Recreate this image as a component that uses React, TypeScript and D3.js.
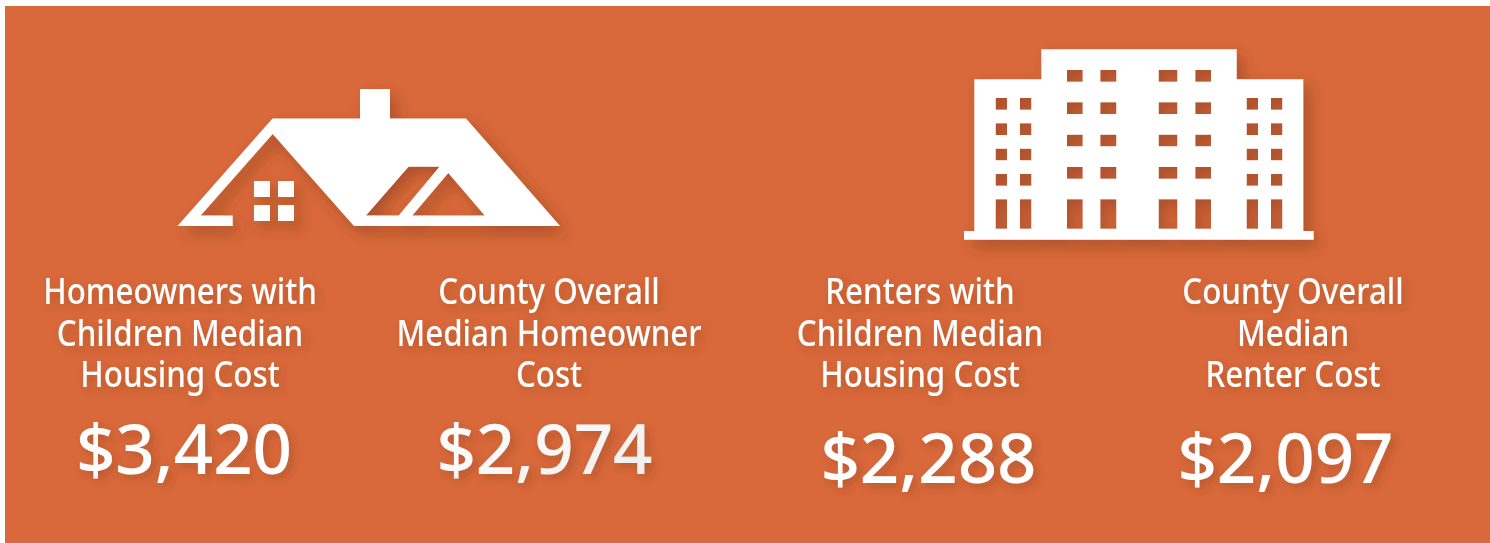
import React from "react";
import { format, line, scaleOrdinal } from "d3";

// data
const categories = ["ownerKids", "ownerAll", "renterKids", "renterAll"];
const labels = [
  ["Homeowners with", "Children Median", "Housing Cost"],
  ["County Overall", "Median Homeowner", "Cost"],
  ["Renters with", "Children Median", "Housing Cost"],
  ["County Overall", "Median", "Renter Cost"],
];
const costs = [3420, 2974, 2288, 2097];

// layout
const W = 1490;
const H = 543;
const FONT = "'Noto Sans', sans-serif";
const BG = "#d9693b";
const xLabel = scaleOrdinal<string, number>().domain(categories).range([180, 549, 920, 1293]);
const xCost = scaleOrdinal<string, number>().domain(categories).range([184, 544.5, 928.5, 1285.5]);
const yCost = scaleOrdinal<string, number>().domain(categories).range([474, 474, 483, 483]);
const labelY = [304, 346, 387];
const money = format("$,");

// icon outlines
const roof: [number, number][] = [
  [177.5, 226], [272.5, 118.5], [360, 118.5], [360, 89], [390, 89], [390, 118.5], [466, 118.5],
  [560, 226], [354, 226], [272.7, 134], [200.7, 215.5], [232.7, 215.5], [232.7, 226],
];
const dormer: [number, number][] = [[366, 215.5], [408.5, 166.7], [439.5, 166.7], [398.7, 215.5]];
const gable: [number, number][] = [[412.3, 215.5], [448.3, 173], [484.7, 215.5]];
const paneX = [[254, 270], [278, 294]];
const paneY = [[181, 197], [205, 221]];

const tower: [number, number][] = [
  [974.3, 231], [974.3, 79.3], [1041.3, 79.3], [1041.3, 49.3], [1236.7, 49.3], [1236.7, 79.3],
  [1303.3, 79.3], [1303.3, 231], [1313.7, 231], [1313.7, 239.7], [964, 239.7], [964, 231],
];
const wingCols = [[995.7, 1007], [1020, 1031.3], [1246.7, 1258], [1271, 1282.3]];
const wingRows = [[98, 109.7], [123.3, 135], [148.7, 160.3], [174, 185.7], [199.3, 228.7]];
const midCols = [[1067, 1082.7], [1100.3, 1116.3], [1158.7, 1177.3], [1195.3, 1211]];
const midRows = [[70, 81.7], [102.3, 114], [134.7, 146.3], [167, 178.7], [199.3, 228.7]];

const outline = line();
const closed = (pts: [number, number][]) => outline(pts) + "Z";
const box = ([x0, x1]: number[], [y0, y1]: number[]) =>
  closed([[x0, y0], [x1, y0], [x1, y1], [x0, y1]]);
const grid = (cols: number[][], rows: number[][]) =>
  cols.flatMap((c) => rows.map((r) => box(c, r))).join("");

const App = () => {
  return (
    <svg
      width={W}
      height={H}
      viewBox={`0 0 ${W} ${H}`}
      style={{ position: "absolute", left: 0, top: 0, background: "#fff" }}
    >
      <defs>
        <filter id="iconShadow" x="-10%" y="-20%" width="125%" height="150%">
          <feDropShadow dx="6" dy="7" stdDeviation="8" floodColor="#74361a" floodOpacity="0.46" />
        </filter>
        <filter id="textShadow" x="-10%" y="-20%" width="125%" height="150%">
          <feDropShadow dx="4" dy="4" stdDeviation="4.5" floodColor="#74361a" floodOpacity="0.32" />
        </filter>
        <linearGradient id="paleFill" x1="0" y1="0" x2="1" y2="1">
          <stop offset="0.2" stopColor="#ffffff" />
          <stop offset="1" stopColor="#ebebeb" />
        </linearGradient>
      </defs>
      <rect x={5} y={6} width={W - 5} height={H - 6} fill={BG} />

      <g fill="#fff" fillRule="evenodd" filter="url(#iconShadow)">
        <path d={closed(roof) + closed(dormer) + closed(gable)} />
        <path d={grid(paneX, paneY)} />
        <path d={closed(tower) + grid(wingCols, wingRows) + grid(midCols, midRows)} />
      </g>

      <g fill="#fff" fontFamily={FONT} textAnchor="middle" fontWeight={500} filter="url(#textShadow)">
        {categories.map((c, i) => (
          <g key={c}>
            {labels[i].map((t, j) => (
              <text
                key={j}
                transform={`translate(${xLabel(c)},${labelY[j]}) scale(0.87,1)`}
                fontSize={36}
              >
                {t}
              </text>
            ))}
            <text
              transform={`translate(${xCost(c)},${yCost(c)})`}
              fontSize={69}
              fill={c === "ownerAll" ? "url(#paleFill)" : "#fff"}
            >
              {money(costs[i])}
            </text>
          </g>
        ))}
      </g>
    </svg>
  );
};

export default App;
